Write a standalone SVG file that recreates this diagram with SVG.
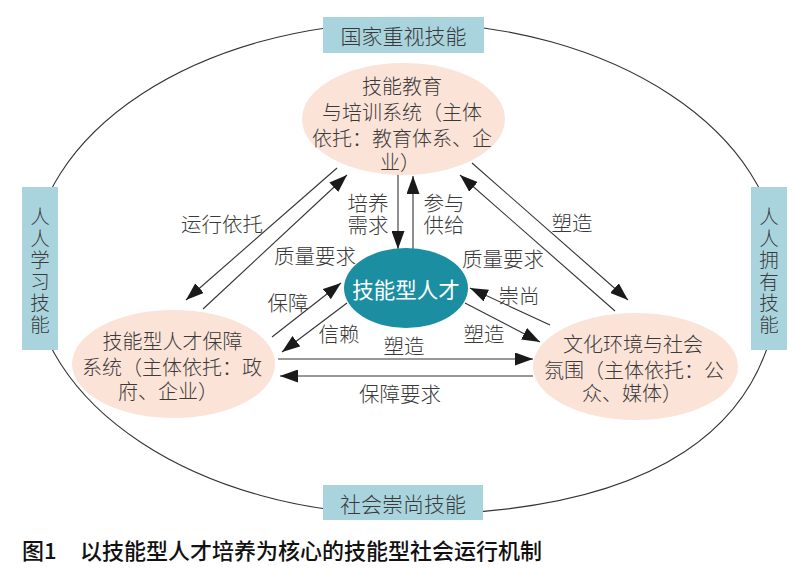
<svg xmlns="http://www.w3.org/2000/svg" width="800" height="579" viewBox="0 0 800 579">
<style>
text{font-family:"Noto Sans CJK SC","Noto Sans",sans-serif;fill:#3a3a3a;font-weight:300}
.lbl{font-size:20.5px;text-anchor:middle;dominant-baseline:central}
.nt{font-size:20px;text-anchor:middle;dominant-baseline:central}
.bx{font-size:21px;text-anchor:middle;dominant-baseline:central}
.vt{font-size:19.5px;writing-mode:vertical-rl;letter-spacing:2px}
.box{fill:#a9d4de}
.pink{fill:#fbe3d8}
.ln{stroke:#333;stroke-width:1.1;fill:none}
.arr{marker-end:url(#ah)}
</style>
<defs>
<marker id="ah" viewBox="0 0 18 13" refX="18" refY="6.5" markerWidth="18" markerHeight="13" orient="auto" markerUnits="userSpaceOnUse">
<path d="M0,0 L18,6.5 L0,13 z" fill="#1a1a1a"/>
</marker>
</defs>
<rect width="800" height="579" fill="#ffffff"/>
<g id="outer">
<path class="ln" d="M31.5,268.5 C31.5,132.6 198.9,22.5 405.5,22.5 C612.1,22.5 779.5,132.6 779.5,268.5 C779.5,430 650,514.5 405.5,514.5 C198.9,514.5 31.5,404.4 31.5,268.5 Z"/>
</g>
<g id="connectors">
<line class="ln arr" x1="337" y1="168" x2="186" y2="300"/>
<line class="ln arr" x1="203" y1="309" x2="347" y2="175"/>
<line class="ln arr" x1="398" y1="174" x2="398" y2="249"/>
<line class="ln arr" x1="413" y1="251" x2="413" y2="176"/>
<line class="ln arr" x1="472" y1="163" x2="628" y2="300"/>
<line class="ln arr" x1="615" y1="311" x2="460" y2="175"/>
<line class="ln arr" x1="272" y1="337" x2="341" y2="283"/>
<line class="ln arr" x1="347" y1="303" x2="282" y2="352"/>
<line class="ln arr" x1="550" y1="325" x2="470" y2="288"/>
<line class="ln arr" x1="465" y1="303" x2="540" y2="342"/>
<line class="ln arr" x1="278" y1="359" x2="533" y2="359"/>
<line class="ln arr" x1="533" y1="376" x2="280" y2="376"/>
<text class="lbl" x="222" y="223">运行依托</text>
<text class="lbl" x="315" y="255">质量要求</text>
<text class="lbl"><tspan x="368" y="202">培养</tspan><tspan x="368" y="224">需求</tspan></text>
<text class="lbl"><tspan x="444" y="202">参与</tspan><tspan x="444" y="224">供给</tspan></text>
<text class="lbl" x="572" y="222">塑造</text>
<text class="lbl" x="503" y="258">质量要求</text>
<text class="lbl" x="288" y="302">保障</text>
<text class="lbl" x="339" y="333">信赖</text>
<text class="lbl" x="519" y="295">崇尚</text>
<text class="lbl" x="484" y="333">塑造</text>
<text class="lbl" x="404" y="345">塑造</text>
<text class="lbl" x="400" y="393">保障要求</text>
</g>
<g id="n-top-box">
<rect class="box" x="323" y="17" width="161" height="36"/>
<text class="bx" x="403.5" y="35">国家重视技能</text>
</g>
<g id="n-bottom-box">
<rect class="box" x="323" y="485" width="160" height="35"/>
<text class="bx" x="403" y="503">社会崇尚技能</text>
</g>
<g id="n-left-box">
<rect class="box" x="22" y="187" width="36" height="163"/>
<text class="vt" x="40" y="207">人人学习技能</text>
</g>
<g id="n-right-box">
<rect class="box" x="751" y="187" width="36" height="163"/>
<text class="vt" x="769" y="207">人人拥有技能</text>
</g>
<g id="n-edu">
<ellipse class="pink" cx="403.5" cy="119" rx="101.5" ry="56"/>
<text class="nt"><tspan x="402" y="85">技能教育</tspan><tspan x="402" y="111">与培训系统（主体</tspan><tspan x="402" y="137">依托：教育体系、企</tspan><tspan x="400" y="161">业）</tspan></text>
</g>
<g id="n-guarantee">
<ellipse class="pink" cx="173.5" cy="364" rx="101.5" ry="54"/>
<text class="nt"><tspan x="172.5" y="340">技能型人才保障</tspan><tspan x="172" y="366">系统（主体依托：政</tspan><tspan x="168" y="390">府、企业）</tspan></text>
</g>
<g id="n-culture">
<ellipse class="pink" cx="635.5" cy="366.5" rx="102.5" ry="53.5"/>
<text class="nt"><tspan x="633" y="343">文化环境与社会</tspan><tspan x="634" y="369">氛围（主体依托：公</tspan><tspan x="632" y="392">众、媒体）</tspan></text>
</g>
<g id="n-talent">
<ellipse cx="406" cy="288" rx="62" ry="40" fill="#1b8ea1"/>
<text x="406" y="288" style="fill:#ffffff;font-size:21.5px;text-anchor:middle;dominant-baseline:central;font-weight:400">技能型人才</text>
</g>
<g id="caption">
<text x="22" y="549" style="fill:#111;font-size:22px;dominant-baseline:central;font-weight:500">图1</text>
<text x="80" y="549" style="fill:#111;font-size:22px;dominant-baseline:central;font-weight:500">以技能型人才培养为核心的技能型社会运行机制</text>
</g>
</svg>
